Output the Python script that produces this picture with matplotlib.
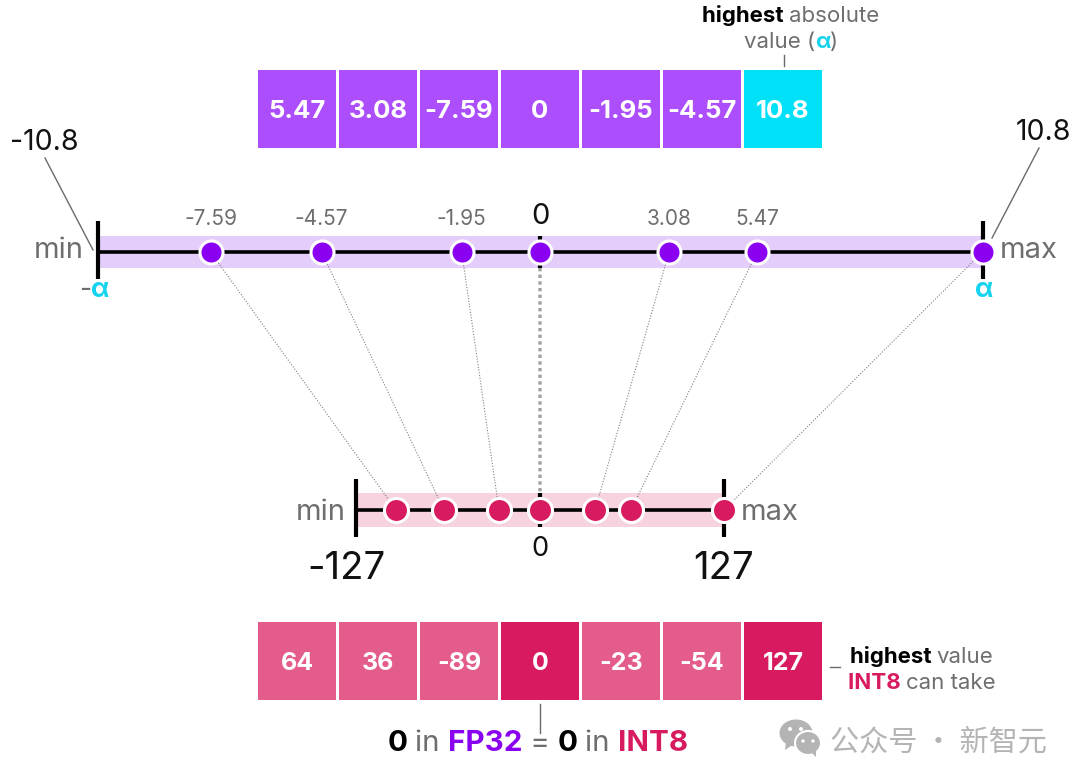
import matplotlib
matplotlib.use('Agg')
import matplotlib.pyplot as plt
from matplotlib.patches import ConnectionPatch, Ellipse, Polygon

plt.rcParams['font.family'] = ['Inter', 'Noto Sans CJK SC', 'DejaVu Sans']

W, H = 1080, 781

# values shown in the cells
fp32_values = [5.47, 3.08, -7.59, 0, -1.95, -4.57, 10.8]
int8_values = [64, 36, -89, 0, -23, -54, 127]
# where each mark really sits on its line, the drawing is not to scale
fp32_marks = [5.30, 3.15, -8.04, 0, -1.91, -5.33, 10.8]
int8_marks = [62.8, 38.0, -99.4, 0, -28.3, -66.3, 127]
fp32_labels = ['5.47', '3.08', '-7.59', '', '-1.95', '-4.57', '']
fp32_alpha = 10.8
int8_limit = 127

PURPLE = '#8A00F0'
PURPLE_CELL = '#AC4EFB'
PURPLE_BAND = '#E4CDFA'
CYAN = '#00E1F8'
CYAN_TEXT = '#14D3EE'
PINK = '#D81B60'
PINK_CELL = '#E45C8C'
PINK_BAND = '#F7D3E0'
GRAY = '#6E6E6E'
LEADER = '#6A6A6A'

fig = plt.figure(figsize=(W / 100, H / 100), dpi=100, facecolor='white')


def px_axes(x0, y0, x1, y1, zorder=1):
    a = fig.add_axes([x0 / W, 1 - y1 / H, (x1 - x0) / W, (y1 - y0) / H], zorder=zorder)
    a.axis('off')
    return a


# overlay in pixel units, only for text and leader lines
ax = px_axes(0, 0, W, H, zorder=1)
ax.set_xlim(0, W)
ax.set_ylim(H, 0)


def runs(x, y, parts, size, anchor='center'):
    # several colours on one baseline, parts = (text, colour, weight)
    r = fig.canvas.get_renderer()
    pieces = []
    total = 0
    for s, c, w in parts:
        t = ax.text(0, y, s, color=c, fontweight=w, fontsize=size, va='baseline', ha='left')
        wd = t.get_window_extent(r).width
        pieces.append((t, wd))
        total += wd
    cur = x - total / 2 if anchor == 'center' else x
    for t, wd in pieces:
        t.set_x(cur)
        cur += wd


def number_line(a, marks, limit, dot_color, band_color, band_h, dot_px):
    a.set_xlim(-limit, limit)
    a.set_ylim(-1, 1)
    low = -27 / 31  # the end ticks stop a little short below the line
    a.barh(0, 2 * limit, left=-limit, height=band_h, color=band_color, linewidth=0, zorder=1)
    a.plot([-limit, limit], [0, 0], color='black', lw=2.6, zorder=2, solid_capstyle='butt')
    a.plot([-limit, -limit], [low, 1], color='black', lw=3, zorder=2, solid_capstyle='butt', clip_on=False)
    a.plot([limit, limit], [low, 1], color='black', lw=3, zorder=2, solid_capstyle='butt', clip_on=False)
    a.plot([0, 0], [-band_h / 2, band_h / 2], color='black', lw=3, zorder=2, solid_capstyle='butt')
    a.plot(marks, [0] * len(marks), ls='none', marker='o', ms=dot_px * 0.72 + 2.2, mfc=dot_color,
           mec='white', mew=2.2, zorder=3, clip_on=False)


def cells(a, values, colors, size, weight):
    a.set_xlim(-0.5, len(values) - 0.5)
    a.set_ylim(0, 1)
    idx = list(range(len(values)))
    a.bar(idx, [1] * len(values), width=78 / 81, color=colors, linewidth=0)
    for i, v in zip(idx, values):
        a.text(i, 0.5, str(v), color='white', fontsize=size, fontweight=weight,
               ha='center', va='center_baseline')


# number lines
ax_top = px_axes(97.5, 221, 982.5, 283, zorder=3)
number_line(ax_top, fp32_marks, fp32_alpha, PURPLE, PURPLE_BAND, 32 / 31, 20)
ax_bot = px_axes(356, 479, 724, 541, zorder=3)
number_line(ax_bot, int8_marks, int8_limit, PINK, PINK_BAND, 34 / 31, 21)

for m, lab in zip(fp32_marks, fp32_labels):
    if lab:
        ax_top.annotate(lab, (m, 0), xytext=(0, 25.2), textcoords='offset points', ha='center',
                        va='center_baseline', color=GRAY, fontsize=15)

# cell rows
ax_c1 = px_axes(256.5, 70, 823.5, 148, zorder=2)
cells(ax_c1, fp32_values, [PURPLE_CELL] * 6 + [CYAN], 18.5, 'bold')
ax_c2 = px_axes(256.5, 622, 823.5, 700, zorder=2)
cells(ax_c2, int8_values,
      [PINK_CELL, PINK_CELL, PINK_CELL, PINK, PINK_CELL, PINK_CELL, PINK], 18, 'bold')

# dotted links between the two lines
for mt, mb in zip(fp32_marks, int8_marks):
    is_zero = mt == 0
    con = ConnectionPatch((mt, 0), (mb, 0), coordsA=ax_top.transData, coordsB=ax_bot.transData,
                          color='#A0A0A0' if is_zero else '#808080',
                          lw=2.4 if is_zero else 0.8,
                          ls=(0, (1, 1)) if is_zero else (0, (1, 1.5)),
                          capstyle='butt',
                          shrinkA=11.5 if is_zero else 9.5,
                          shrinkB=12 if is_zero else 9.5, zorder=5)
    fig.add_artist(con)

# leaders
ax.plot([45, 93], [158, 250], color=LEADER, lw=1)
ax.plot([1039, 992], [148, 238], color=LEADER, lw=1)
ax.plot([784, 784], [55, 66], color=LEADER, lw=1)
ax.plot([830, 840], [667, 667], color=LEADER, lw=1)
ax.plot([540, 540], [704, 733], color=LEADER, lw=1)

# top line labels
ax.text(44, 140, '-10.8', fontsize=20.5, color='#111111', ha='center', va='center_baseline')
ax.text(1043, 129, '10.8', fontsize=20.5, color='#111111', ha='center', va='center_baseline')
ax.text(59, 248, 'min', fontsize=21, color=GRAY, ha='center', va='center_baseline')
ax.text(1029, 248, 'max', fontsize=21, color=GRAY, ha='center', va='center_baseline')
ax.text(540, 214, '0', fontsize=21, color='#111111', ha='center', va='center_baseline')
runs(94, 297, [('-', GRAY, 'normal'), ('α', CYAN_TEXT, 'bold')], 19)
runs(984, 297, [('α', CYAN_TEXT, 'bold')], 19)

# top note
runs(791, 22, [('highest ', 'black', 'bold'), ('absolute', GRAY, 'normal')], 16)
runs(791, 48, [('value (', GRAY, 'normal'), ('α', CYAN_TEXT, 'bold'), (')', GRAY, 'normal')], 16)

# bottom line labels
ax.text(321, 510, 'min', fontsize=21, color=GRAY, ha='center', va='center_baseline')
ax.text(770, 510, 'max', fontsize=21, color=GRAY, ha='center', va='center_baseline')
ax.text(540, 546, '0', fontsize=19.5, color='#111111', ha='center', va='center_baseline')
ax.text(347, 565, '-127', fontsize=27.5, color='#111111', ha='center', va='center_baseline')
ax.text(724, 565, '127', fontsize=27.5, color='#111111', ha='center', va='center_baseline')

# bottom notes
runs(850, 663, [('highest ', 'black', 'bold'), ('value', GRAY, 'normal')], 16, anchor='left')
runs(848, 689, [('INT8 ', PINK, 'bold'), ('can take', GRAY, 'normal')], 16, anchor='left')
runs(538, 751, [('0 ', 'black', 'bold'), ('in ', GRAY, 'normal'), ('FP32', PURPLE, 'bold'),
                (' = ', GRAY, 'normal'), ('0 ', 'black', 'bold'), ('in ', GRAY, 'normal'),
                ('INT8', PINK, 'bold')], 21.3)

# watermark
WM = '#B4B4B4'
ax.add_patch(Ellipse((796, 733), 33, 27, color=WM, lw=0))
ax.add_patch(Polygon([[786, 742], [785, 750], [794, 744]], color=WM, lw=0))
ax.add_patch(Ellipse((808, 743), 26, 24, fc=WM, ec='white', lw=1.5))
ax.add_patch(Polygon([[811, 752], [816, 757], [816, 750]], color=WM, lw=0))
for ex, ey, er in [(790, 729, 4), (801, 729, 4), (803, 741, 3.4), (813, 741, 3.4)]:
    ax.add_patch(Ellipse((ex, ey), er, er, color='white', lw=0))
ax.text(830, 739, '公众号 · 新智元', fontsize=21, color=WM, ha='left', va='center_baseline',
        family=['Noto Sans CJK SC', 'DejaVu Sans'])

fig.savefig('out.png', dpi=100, facecolor='white')
